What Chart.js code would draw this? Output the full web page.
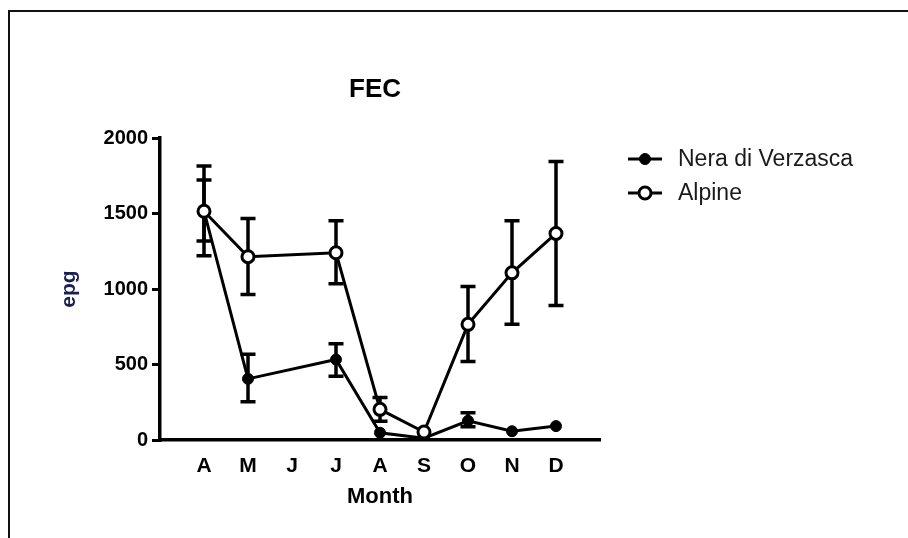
<!DOCTYPE html>
<html>
<head>
<meta charset="utf-8">
<title>FEC</title>
<script src="https://cdn.jsdelivr.net/npm/chart.js@4.4.1/dist/chart.umd.min.js"></script>
<style>
    html, body { margin: 0; padding: 0; background: #fff; overflow: hidden; }
    #wrap { position: relative; width: 908px; height: 538px; }
    #frame { position: absolute; left: 8px; top: 10px; width: 940px; height: 580px; border: 2.5px solid #111; box-sizing: border-box; pointer-events: none; }
    canvas { position: absolute; left: 0; top: 0; }
</style>
</head>
<body>
<div id="wrap">
    <canvas id="fecChart" width="908" height="538"></canvas>
    <div id="frame"></div>
</div>
<script>
// --- Data ---
const months = ['A', 'M', 'J', 'J', 'A', 'S', 'O', 'N', 'D'];
const yTicks = [0, 500, 1000, 1500, 2000];

const neraMean  = [1515, 405, null, 533, 48, 12, 127, 58, 92];
const neraUpper = [1722, 568, null, 638, null, null, 180, null, null];
const neraLower = [1318, 253, null, 422, null, null, 88, null, null];

const alpineMean  = [1515, 1214, null, 1240, 203, 53, 766, 1107, 1368];
const alpineUpper = [1815, 1467, null, 1452, 282, null, 1017, 1452, 1844];
const alpineLower = [1221, 963, null, 1034, 125, null, 520, 766, 891];

const toPoints = arr => arr.map((v, i) => ({ x: i + 1, y: v }));
const FONT = '"Liberation Sans", Arial, sans-serif';

// --- Error bars, drawn through the chart's own scales ---
const errorBarPlugin = {
    id: 'errorBars',
    beforeDatasetsDraw(chart) {
        const { ctx, scales: { x, y } } = chart;
        ctx.save();
        ctx.strokeStyle = '#000';
        ctx.lineWidth = 3.5;
        chart.data.datasets.forEach(ds => {
            ds.errUpper.forEach((up, i) => {
                const lo = ds.errLower[i];
                if (up == null || lo == null) return;
                const px = x.getPixelForValue(i + 1);
                const pTop = y.getPixelForValue(up);
                const pBot = y.getPixelForValue(lo);
                ctx.beginPath();
                ctx.moveTo(px, pTop); ctx.lineTo(px, pBot);
                ctx.moveTo(px - 7.5, pTop); ctx.lineTo(px + 7.5, pTop);
                ctx.moveTo(px - 7.5, pBot); ctx.lineTo(px + 7.5, pBot);
                ctx.stroke();
            });
        });
        ctx.restore();
    }
};

// --- Title and legend in the GraphPad style ---
const decorPlugin = {
    id: 'decor',
    afterDraw(chart) {
        const ctx = chart.ctx;
        ctx.save();
        ctx.fillStyle = '#000';
        ctx.font = 'bold 26px ' + FONT;
        ctx.textAlign = 'center';
        ctx.textBaseline = 'middle';
        ctx.fillText('FEC', 375, 90);

        const rows = [159, 193];
        chart.data.datasets.forEach((ds, i) => {
            const yy = rows[i];
            ctx.strokeStyle = '#000';
            ctx.lineWidth = 3;
            ctx.beginPath();
            ctx.moveTo(628, yy); ctx.lineTo(662, yy);
            ctx.stroke();
            ctx.beginPath();
            ctx.arc(645, yy, ds.pointRadius, 0, Math.PI * 2);
            ctx.fillStyle = ds.pointBackgroundColor;
            ctx.fill();
            ctx.lineWidth = ds.pointBorderWidth;
            ctx.stroke();
            ctx.fillStyle = '#1a1a1a';
            ctx.font = '23px ' + FONT;
            ctx.textAlign = 'left';
            ctx.fillText(ds.label, 678, yy + 1);
        });
        ctx.restore();
    }
};

const ctx = document.getElementById('fecChart').getContext('2d');
new Chart(ctx, {
    type: 'line',
    data: {
        datasets: [
            {
                label: 'Nera di Verzasca',
                data: toPoints(neraMean),
                errUpper: neraUpper,
                errLower: neraLower,
                borderColor: '#000',
                borderWidth: 3,
                pointRadius: 5.5,
                pointBorderWidth: 1,
                pointBackgroundColor: '#000',
                pointBorderColor: '#000',
                spanGaps: true,
                tension: 0,
                order: 2
            },
            {
                label: 'Alpine',
                data: toPoints(alpineMean),
                errUpper: alpineUpper,
                errLower: alpineLower,
                borderColor: '#000',
                borderWidth: 3,
                pointRadius: 6,
                pointBorderWidth: 3,
                pointBackgroundColor: '#fff',
                pointBorderColor: '#000',
                spanGaps: true,
                tension: 0,
                order: 1
            }
        ]
    },
    options: {
        responsive: false,
        animation: false,
        layout: { padding: { left: 0, top: 138, right: 308, bottom: 0 } },
        plugins: {
            legend: { display: false },
            title: { display: false },
            tooltip: { enabled: false }
        },
        scales: {
            x: {
                type: 'linear',
                min: 0,
                max: 10,
                afterFit: s => { s.height = 98; },
                afterBuildTicks: s => { s.ticks = months.map((m, i) => ({ value: i + 1 })); },
                grid: { display: false, drawTicks: false },
                border: { display: true, color: '#000', width: 3.5 },
                ticks: {
                    padding: 14,
                    color: '#000',
                    font: { family: FONT, size: 21, weight: 'bold' },
                    callback: v => months[v - 1] || ''
                },
                title: {
                    display: true,
                    text: 'Month',
                    color: '#000',
                    font: { family: FONT, size: 22, weight: 'bold' },
                    padding: { top: 0, bottom: 28 }
                }
            },
            y: {
                min: 0,
                max: 2000,
                afterFit: s => { s.width = 160; },
                afterBuildTicks: s => { s.ticks = yTicks.map(v => ({ value: v })); },
                grid: { drawOnChartArea: false, drawTicks: true, tickLength: 8, color: '#000', lineWidth: 3 },
                border: { display: true, color: '#000', width: 3.5 },
                ticks: {
                    padding: 4,
                    color: '#000',
                    font: { family: FONT, size: 20, weight: 'bold' },
                    callback: v => String(v)
                },
                title: {
                    display: true,
                    text: 'epg',
                    color: '#1c2050',
                    font: { family: FONT, size: 21, weight: 'bold' },
                    padding: { top: 57, bottom: 0 }
                }
            }
        }
    },
    plugins: [errorBarPlugin, decorPlugin]
});
</script>
</body>
</html>
